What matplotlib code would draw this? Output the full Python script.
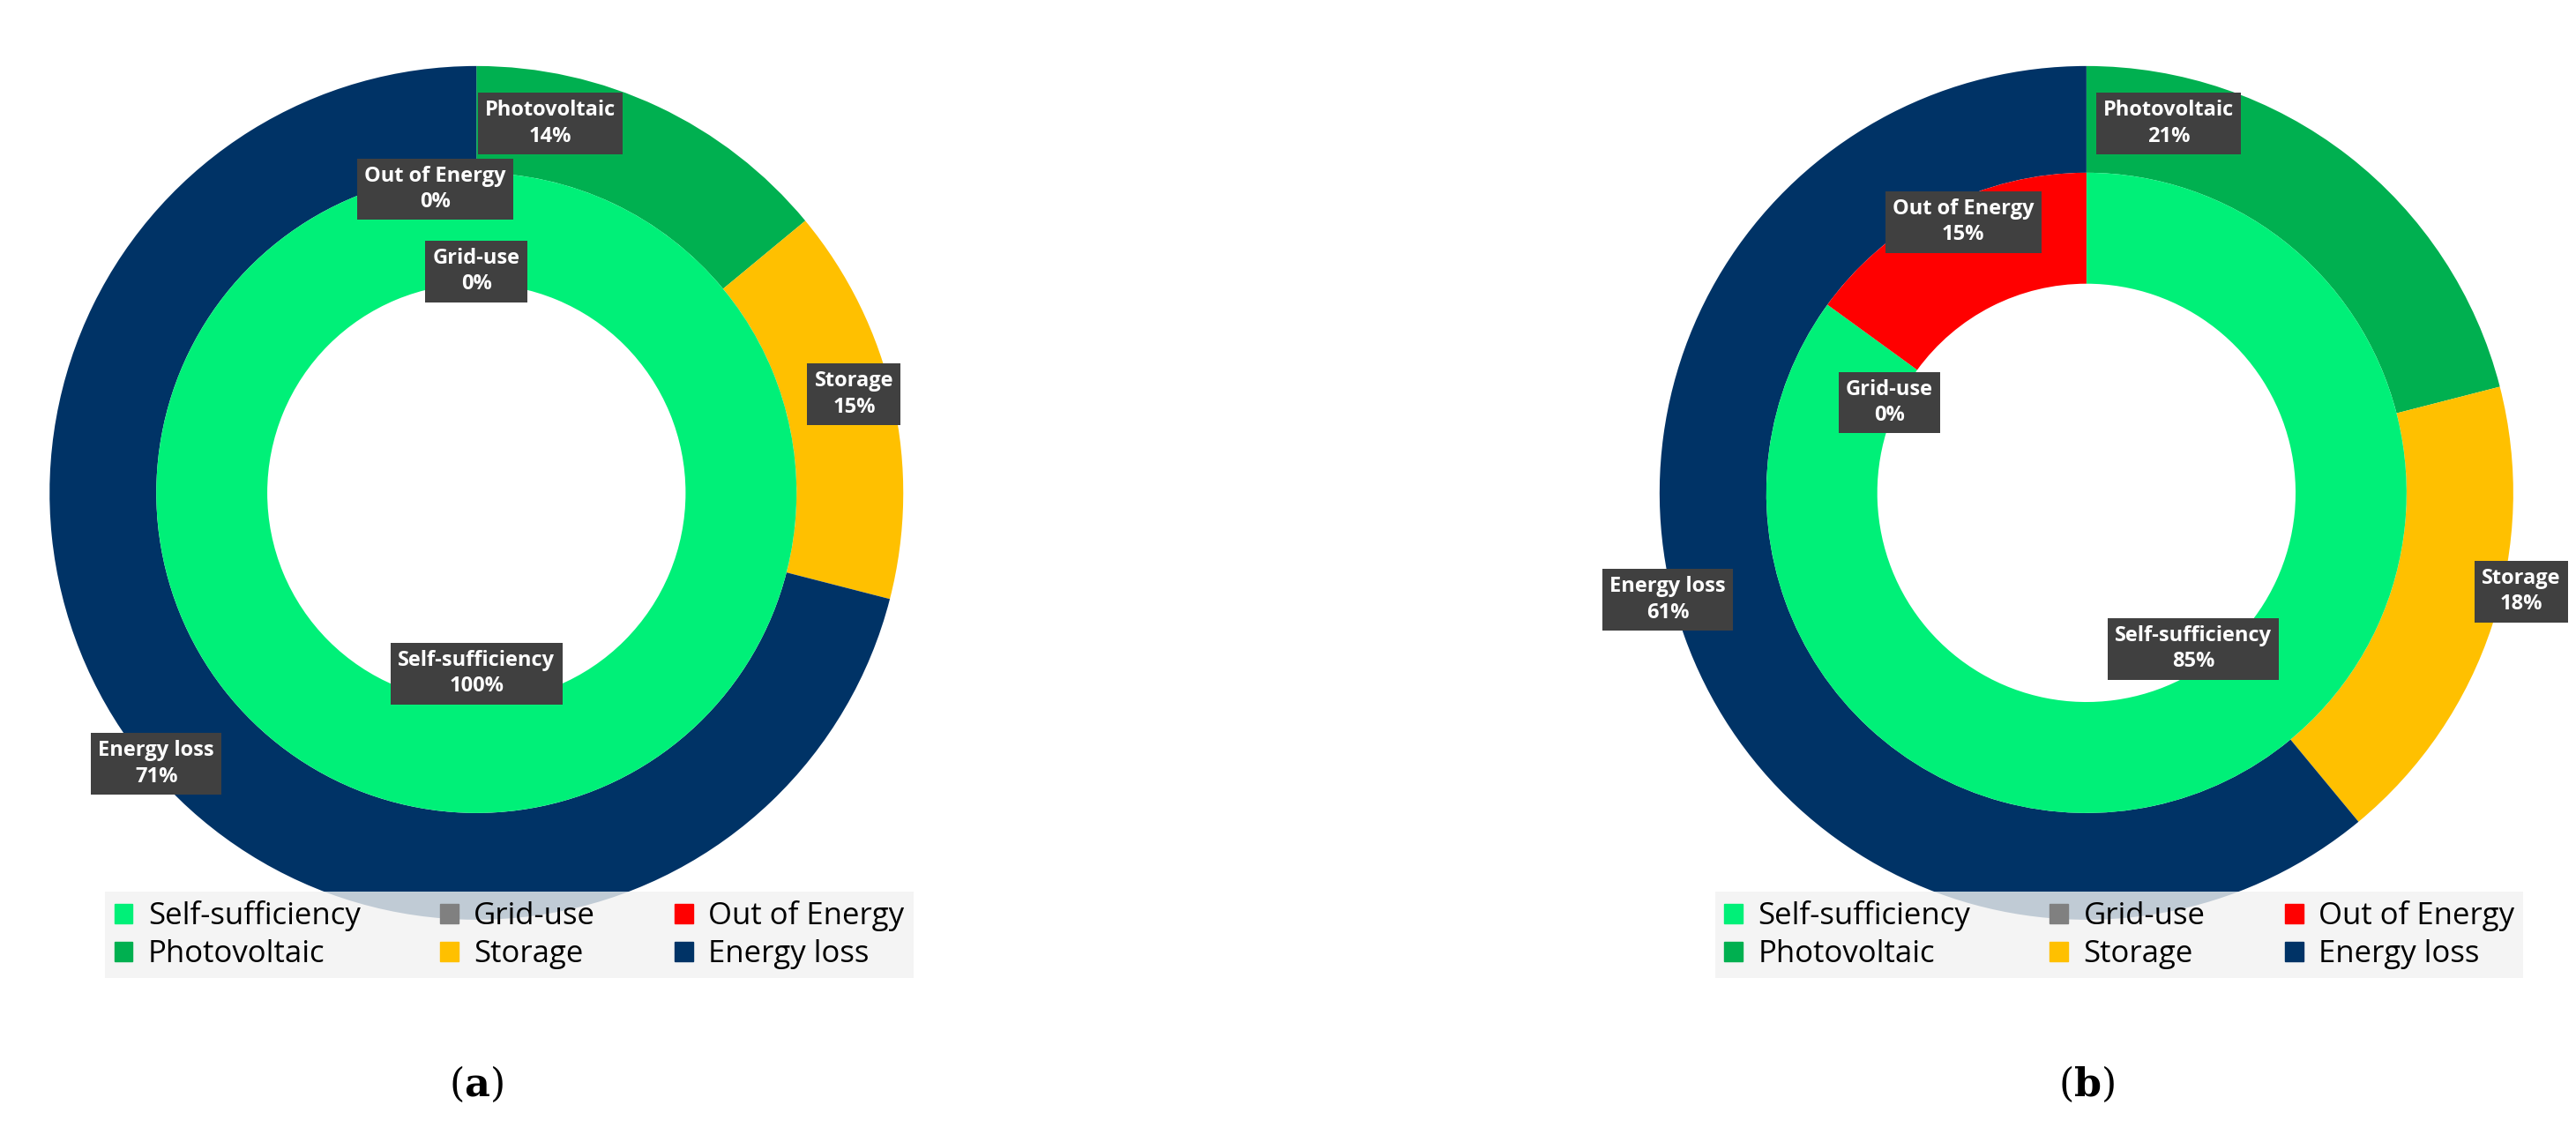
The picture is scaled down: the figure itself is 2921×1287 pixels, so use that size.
import matplotlib
matplotlib.use("Agg")
import matplotlib.pyplot as plt
from matplotlib.patches import Patch

cats_inner = ["Self-sufficiency", "Grid-use", "Out of Energy"]
cats_outer = ["Photovoltaic", "Storage", "Energy loss"]
inner_a = [100, 0, 0]
outer_a = [14, 15, 71]
inner_b = [85, 0, 15]
outer_b = [21, 18, 61]
panel_labels = ["a", "b"]

c_inner = ["#00F078", "#808080", "#FF0000"]
c_outer = ["#00B050", "#FFC000", "#003366"]

plt.rcParams["mathtext.fontset"] = "dejavuserif"
W, H = 2921, 1287
fig = plt.figure(figsize=(W/100, H/100), dpi=100)
S = 2921/1568
R = 484

def make_axes(cx_disp):
    cx, cy = cx_disp*S, 300*S
    half = 1.1*R
    ax = fig.add_axes([(cx-half)/W, (H-cy-half)/H, 2*half/W, 2*half/H])
    ax.axis("off")
    return ax

def draw(ax, inner, outer):
    ax.pie(outer, radius=1.0, colors=c_outer, startangle=90, counterclock=False,
           wedgeprops=dict(width=0.25, edgecolor="none"))
    ax.pie(inner, radius=0.75, colors=c_inner, startangle=90, counterclock=False,
           wedgeprops=dict(width=0.26, edgecolor="none"))
    ax.set_xlim(-1.1, 1.1); ax.set_ylim(-1.1, 1.1); ax.set_aspect("equal")

def lab(ax, cxd, xd, yd, name, val):
    x = (xd-cxd)/260; y = (300-yd)/260
    ax.text(x, y, f"{name}\n{val}%", ha="center", va="center", color="white",
            fontsize=17, fontweight="bold", family="Open Sans", linespacing=1.3,
            bbox=dict(boxstyle="square,pad=0.35", fc="#404040", ec="none"), zorder=5)

axa = make_axes(290)
draw(axa, inner_a, outer_a)
for (xd, yd), n, v in zip([(335, 75), (520, 240), (95, 465)], cats_outer, outer_a):
    lab(axa, 290, xd, yd, n, v)
for (xd, yd), n, v in zip([(290, 410), (290, 165), (265, 115)], cats_inner, inner_a):
    lab(axa, 290, xd, yd, n, v)

axb = make_axes(1270)
draw(axb, inner_b, outer_b)
for (xd, yd), n, v in zip([(1320, 75), (1535, 360), (1015, 365)], cats_outer, outer_b):
    lab(axb, 1270, xd, yd, n, v)
for (xd, yd), n, v in zip([(1335, 395), (1150, 245), (1195, 135)], cats_inner, inner_b):
    lab(axb, 1270, xd, yd, n, v)

handles = [Patch(color=c_inner[0], label=cats_inner[0]), Patch(color=c_outer[0], label=cats_outer[0]),
           Patch(color=c_inner[1], label=cats_inner[1]), Patch(color=c_outer[1], label=cats_outer[1]),
           Patch(color=c_inner[2], label=cats_inner[2]), Patch(color=c_outer[2], label=cats_outer[2])]
for cxd in (310, 1290):
    fig.legend(handles=handles, ncol=3, loc="center", bbox_to_anchor=(cxd*S/W, 1-569*S/H),
               frameon=True, facecolor="#F2F2F2", edgecolor="none", fancybox=False,
               handlelength=0.6, handleheight=0.6, columnspacing=2.6, handletextpad=0.5,
               labelspacing=0.25, borderpad=0.3, prop={"family": "Open Sans", "size": 25})

for cxd, p in zip((290, 1270), panel_labels):
    fig.text(cxd*S/W, 1-660*S/H, rf"($\mathbf{{{p}}}$)", ha="center", va="center",
             fontsize=32, family="DejaVu Serif")

fig.savefig("out.png", dpi=100)
